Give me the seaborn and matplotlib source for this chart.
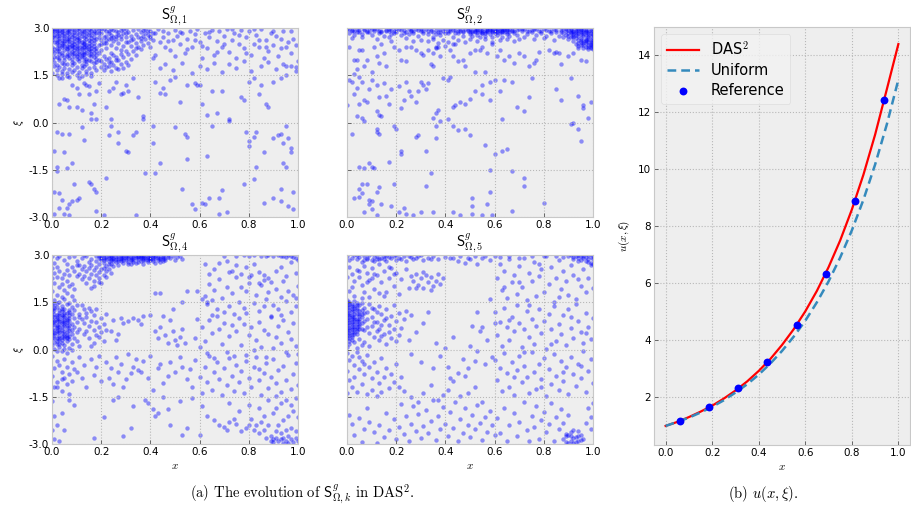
import numpy as np
import matplotlib
matplotlib.use("Agg")
import matplotlib.pyplot as plt
import seaborn as sns

plt.style.use("bmh")
plt.rcParams.update({
    "mathtext.fontset": "cm",
    "grid.linestyle": ":",
    "grid.color": "#b8b8b8",
    "grid.linewidth": 0.8,
    "axes.edgecolor": "#c8c8c8",
    "xtick.direction": "in",
    "ytick.direction": "in",
    "xtick.labelsize": 7.5,
    "ytick.labelsize": 7.5,
})

# ---- collocation points S^g_{Omega,k}: (x, xi), both in units of 1/100 ----
S1 = [
    # dense upper-left core
    (0,297),(1,289),(1,271),(2,283),(2,262),(3,294),(3,276),(4,251),(4,288),(5,268),(5,299),(6,243),(6,279),(7,291),(7,258),(8,236),(8,273),(9,286),(9,249),(10,297),(10,265),(11,228),(11,281),(12,256),(12,292),(13,239),(13,270),(14,284),(14,221),(15,261),(15,296),(16,247),(16,277),(17,233),(17,289),(18,266),(18,213),
    (0,241),(1,222),(1,256),(2,237),(2,209),(3,228),(3,246),(4,214),(4,263),(5,231),(5,197),(6,219),(6,258),(7,204),(7,240),(8,224),(8,192),(9,212),(9,231),(10,243),(10,201),(11,219),(11,257),(12,208),(12,238),(13,194),(13,225),(14,247),(14,203),(15,233),(15,215),(16,196),(16,226),(17,209),(17,251),(18,238),(18,191),
    (0,283),(0,263),(1,296),(2,274),(2,291),(3,259),(3,285),(4,277),(4,297),(5,252),(5,284),(6,266),(6,293),(7,272),(7,283),(8,297),(8,256),(9,267),(9,278),(10,283),(10,251),(11,293),(11,268),(12,274),(12,246),(13,287),(13,259),(14,296),(14,266),(15,279),(15,244),(16,290),(16,258),(17,271),(17,263),(18,284),(18,297),
    (0,228),(1,209),(2,248),(3,217),(4,239),(5,244),(6,233),(7,226),(8,246),(9,221),(10,230),(11,240),(12,222),(13,248),(14,232),(15,227),(16,236),(17,221),(18,226),
    (0,203),(1,193),(2,184),(3,199),(4,188),(5,209),(6,186),(7,214),(8,203),(9,188),(10,218),(11,196),(12,183),(13,207),(14,186),(15,198),(16,212),(17,189),(18,202),
    (1,179),(2,168),(3,177),(4,163),(5,174),(6,158),(7,170),(8,181),(9,166),(10,176),(11,161),(12,172),(13,178),(14,164),(15,172),(16,157),(17,176),(18,168),
    (0,157),(2,152),(4,154),(6,149),(8,160),(10,151),(12,147),(14,155),(16,149),(3,141),(7,146),(11,140),
    (0,291),(1,278),(1,233),(2,297),(2,255),(3,268),(3,238),(4,292),(4,246),(5,276),(5,259),(6,287),(6,238),(7,265),(7,297),(8,281),(8,243),(9,294),(9,259),(10,273),(10,238),(11,299),(11,262),(12,285),(12,232),(13,296),(13,253),(14,275),(14,239),(15,288),(15,252),(16,268),(16,299),(17,283),(17,243),(0,271),(2,226),(4,221),(6,211),(8,219),(10,210),(12,215),(14,195),(16,217),(9,241),(3,206),(5,187),(11,206),(13,217),(7,249),
    # outer part of the cluster
    (19,294),(19,273),(19,246),(20,285),(20,229),(20,262),(21,297),(21,251),(21,212),(22,276),(22,238),(22,290),(23,264),(23,205),(23,283),(24,247),(24,296),(24,222),(25,271),(25,258),(26,289),(26,236),(26,199),(27,279),(27,251),(28,294),(28,265),(28,218),(29,242),(29,283),(30,272),(30,297),(30,228),(31,257),(31,288),(32,276),(32,244),(33,293),(33,264),(34,282),(34,251),(35,297),(35,271),(36,287),(36,259),(37,276),(37,294),(38,285),(38,264),
    (19,221),(20,194),(21,185),(22,203),(23,178),(24,191),(25,214),(26,172),(27,198),(28,185),(29,209),(30,192),(31,219),(32,201),(33,228),(34,214),(35,240),(36,232),(37,246),(39,253),(40,268),
    (19,198),(21,168),(22,175),(24,164),(20,176),(25,182),(27,169),(29,174),(31,181),(23,193),(26,207),(28,229),(30,255),(32,262),(34,238),(36,268),(38,297),(39,279),(40,291),(41,283),
    (19,283),(20,296),(21,272),(22,263),(23,291),(24,278),(25,293),(26,264),(27,288),(28,276),(29,296),(30,283),(20,248),(22,253),(24,268),(26,276),
    # upper band, right part
    (39,290),(40,275),(41,262),(42,285),(43,298),(44,255),(45,270),(46,240),(47,285),(48,230),(49,262),(50,295),(51,275),(52,250),(53,285),(54,220),(55,265),(56,290),(57,240),(58,280),(59,298),(60,255),(61,205),(62,285),(63,235),(64,270),(65,295),(66,215),(67,260),(68,290),(69,240),(70,275),(71,298),(72,225),(73,262),(74,285),(75,205),(76,250),(77,295),(78,235),(79,270),(80,290),(81,215),(82,250),(83,278),(84,240),(85,296),(86,205),(87,262),(88,228),(89,285),(90,245),(91,275),(92,210),(93,236),(94,292),(95,180),(96,255),(97,220),(98,265),(99,175),(100,195),
    (41,205),(44,172),(46,185),(49,168),(53,190),(57,158),(60,178),(63,170),(66,190),(69,160),(72,185),(75,172),(78,195),(81,165),(85,178),(88,192),(91,170),(94,185),(97,178),(99,165),
    (40,240),(42,215),(45,292),(47,258),(50,210),(52,288),(55,232),(58,262),(61,242),(64,288),(67,225),(70,250),(73,296),(76,278),(79,222),(82,296),(84,262),(87,240),(90,290),(93,265),(95,240),(97,290),(99,245),
    # sparse lower part
    (3,60),(5,75),(6,70),(7,50),(10,50),(11,90),(12,40),(13,125),(14,120),(15,90),(16,30),(16,10),(17,60),(18,100),(18,10),(19,125),(15,115),(8,120),(4,140),(10,110),
    (22,50),(23,100),(25,110),(26,130),(28,90),(30,120),(31,100),(33,140),(35,80),(37,20),(37,10),(29,95),(24,10),
    (42,130),(44,95),(45,110),(46,90),(48,135),(50,145),(52,65),(55,120),(58,125),(59,120),(60,120),
    (61,60),(63,25),(65,100),(67,30),(69,100),(72,10),(72,5),(77,80),(78,70),(80,130),
    (82,140),(84,90),(85,120),(87,60),(88,50),(90,130),(93,140),(95,150),
    (1,-90),(2,-30),(4,-35),(5,-95),(7,-35),(12,-15),(13,-55),(2,-140),
    (24,-10),(23,-40),(27,-30),(27,-65),(30,-90),(31,-95),(33,-40),(34,-30),(38,-160),
    (41,-10),(41,-65),(42,-160),(44,-130),(50,-15),(54,-35),(55,-45),(55,-115),
    (63,-105),(65,-10),(79,-30),(80,-75),(80,-60),
    (82,-45),(83,-30),(86,-95),(90,-50),(92,-40),(93,-35),(94,-65),(95,-10),(96,-50),(97,-80),(97,-95),(94,-130),(95,-140),
    (1,-220),(1,-290),(2,-155),(3,-225),(3,-270),(4,-245),(6,-145),(6,-270),(7,-260),(7,-295),(8,-130),(8,-250),(9,-195),(10,-245),(11,-240),(15,-190),(16,-195),(17,-210),(18,-220),(18,-280),(5,-290),
    (22,-175),(21,-295),(34,-295),
    (53,-210),(57,-260),(58,-275),
    (61,-255),(62,-260),(64,-240),(68,-240),(69,-215),(68,-290),(71,-285),(78,-195),
    (82,-180),(83,-140),(86,-255),(90,-240),(93,-210),(93,-250),(96,-265),(98,-220),(98,-275),
]

S2 = [
    # upper band, left part
    (0,296),(1,284),(2,291),(3,277),(4,298),(5,288),(6,281),(7,294),(8,286),(9,299),(10,279),(11,290),(12,296),(13,283),(14,292),(15,275),(16,289),(17,297),(18,282),(19,291),(20,286),(21,298),(22,278),(23,293),(24,287),(25,281),(26,295),(27,289),(28,298),(29,276),(30,291),(31,285),(32,297),(33,282),(34,290),(35,273),(36,294),(37,286),(38,279),(39,292),(40,298),(41,283),(42,289),(43,271),(44,295),(45,284),(46,290),(47,276),(48,297),
    (1,297),(3,289),(5,294),(8,292),(10,297),(13,290),(16,295),(18,293),(20,297),(23,285),(26,291),(29,295),(31,292),(34,296),(36,281),(38,288),(40,284),(42,296),(44,283),(46,298),(47,291),
    (2,268),(6,271),(12,266),(17,272),(24,269),(30,263),(33,258),(35,264),(37,251),(39,262),(41,255),(43,248),(45,262),(48,256),(36,240),(40,244),
    # upper band, middle
    (49,289),(50,296),(50,281),(51,292),(51,274),(52,298),(52,286),(53,279),(53,293),(54,288),(54,270),(55,297),(55,283),(56,291),(56,276),(57,299),(57,286),(58,280),(58,293),(59,289),(59,271),(60,296),(60,284),(61,290),(61,278),(62,297),(62,285),(63,292),(63,273),(64,288),(64,298),(65,281),(65,293),(66,287),(66,275),(67,295),(68,284),(68,291),(69,278),(70,296),
    (50,288),(52,291),(54,295),(56,284),(58,297),(60,291),(62,289),(64,294),(66,297),(53,286),(57,290),(61,296),(65,288),(55,290),(59,294),(63,287),
    (50,264),(53,259),(56,266),(59,257),(62,262),(65,265),(68,258),(70,266),
    (71,289),(72,297),(73,282),(74,292),(75,286),(76,298),(77,279),(78,291),(79,285),(80,296),(81,276),(82,290),(83,283),(84,297),(85,288),(86,274),(87,293),(88,285),(72,270),(76,264),(80,268),(84,262),(88,270),
    (2,294),(4,286),(7,298),(9,287),(11,296),(14,287),(17,291),(19,285),(22,294),(25,297),(27,284),(30,296),(33,292),(35,287),(38,296),(41,291),(43,294),(45,290),(47,286),(49,294),(51,287),(53,297),(55,285),(57,293),(59,286),(61,287),(63,296),(65,297),(67,289),(69,293),(71,296),(73,291),(75,293),(77,297),(79,289),(81,293),(83,289),(85,295),(87,287),(89,296),
    # upper-right blob
    (88,296),(89,289),(89,277),(90,294),(90,283),(90,266),(91,298),(91,287),(91,272),(92,292),(92,280),(92,259),(93,296),(93,285),(93,268),(93,250),(94,290),(94,276),(94,262),(94,243),(95,297),(95,281),(95,269),(95,254),(96,288),(96,274),(96,260),(96,246),(96,237),(97,293),(97,279),(97,266),(97,252),(97,241),(98,285),(98,271),(98,257),(98,246),(98,233),(99,290),(99,276),(99,262),(99,249),(99,238),(100,282),(100,268),(100,254),(100,243),(100,232),
    (91,293),(92,286),(93,277),(94,296),(95,288),(96,295),(97,286),(98,292),(99,283),(100,290),(95,262),(97,258),(99,255),(100,261),(94,252),(96,251),(98,240),(100,248),(92,270),(90,276),
    (91,283),(93,291),(95,293),(97,289),(99,296),(100,278),(96,281),(98,278),(94,284),(92,276),(97,262),(99,246),(95,245),(98,265),
    # middle part
    (1,240),(3,200),(4,200),(5,230),(6,230),(8,200),(7,180),(4,170),(3,155),(10,160),(11,240),(12,210),(14,250),(15,220),(16,180),(18,260),(19,240),(13,190),
    (21,230),(22,200),(24,195),(26,240),(28,230),(30,220),(31,215),(33,230),(35,220),(36,235),(37,240),(38,210),(34,185),(35,180),(24,240),(27,260),
    (42,230),(43,210),(45,195),(47,200),(48,180),(50,220),(52,230),(54,230),(55,240),(56,160),(57,220),(59,250),(44,250),(52,160),
    (61,210),(62,230),(64,200),(66,210),(68,190),(70,220),(72,210),(74,180),(77,200),(78,225),(76,190),
    (82,230),(84,220),(85,225),(86,220),(87,185),(90,210),(92,220),(94,235),(97,195),(99,240),(95,200),
    (0,55),(1,135),(2,130),(3,90),(4,110),(5,145),(6,130),(5,60),(7,70),(8,65),(9,105),(4,20),(6,15),(7,5),(10,135),(12,120),(13,80),(12,35),(13,25),(14,20),(15,125),(16,85),(17,60),(18,105),
    (21,115),(22,45),(23,70),(24,130),(25,100),(26,85),(28,65),(29,100),(30,130),(31,120),(32,105),(33,125),(35,15),(36,30),(37,40),(38,5),(39,140),
    (41,135),(42,145),(43,50),(44,55),(46,65),(48,60),(50,75),(52,100),(55,90),(55,120),(58,130),(58,70),(60,135),(41,10),
    (62,100),(63,10),(64,135),(67,130),(69,50),(72,35),(74,80),(75,140),
    (85,105),(87,70),(91,140),(92,0),(94,85),(96,45),(96,55),(98,15),(99,65),
    # lower part
    (2,-35),(5,-140),(7,-145),(9,-130),(10,-140),(11,-145),(12,-20),(12,-30),(13,-35),(17,-125),(19,-10),
    (20,-20),(22,-90),(22,-100),(28,-45),(29,-40),(32,-90),(36,-10),(36,-50),(34,-160),
    (43,-10),(45,-25),(48,-20),(50,-40),(56,-70),(60,-100),(58,-150),
    (63,-90),(65,-85),(67,-155),(72,-175),
    (91,-5),(94,-20),(95,-60),
    (3,-240),(5,-210),(6,-225),(6,-195),(8,-195),(9,-245),(9,-260),(10,-275),(10,-250),(7,-285),(12,-295),(13,-205),(12,-220),(14,-260),(18,-265),(19,-195),(5,-235),
    (21,-285),(23,-270),(27,-295),(30,-285),(32,-200),(35,-285),(24,-290),
    (43,-285),(46,-295),(51,-240),(51,-265),(51,-290),(55,-295),(57,-260),(58,-220),(59,-295),
    (67,-280),(72,-200),(80,-255),
]

S4 = [
    # upper band
    (18,296),(18,281),(19,290),(19,271),(20,298),(20,285),(21,276),(21,292),(22,288),(22,266),(23,297),(23,280),(24,291),(24,272),(25,286),(25,299),(26,279),(26,293),(27,269),(27,288),(28,296),(28,281),(29,290),(29,274),(30,285),(30,298),(31,278),(31,292),(32,288),(32,270),(33,296),(33,283),(34,291),(34,276),(35,298),(35,286),(36,280),(36,293),(37,289),(37,272),(38,297),(38,284),(39,291),(39,278),(40,287),(40,298),(41,281),(41,293),(42,289),(42,274),(43,296),(43,284),(44,291),(44,279),(45,297),(45,287),(46,283),(47,294),(48,289),(49,297),(50,285),(51,293),(52,298),(53,288),
    (19,297),(21,299),(23,289),(25,292),(27,297),(29,298),(31,296),(33,290),(35,293),(37,298),(39,295),(41,299),(43,291),(45,293),(47,299),(24,283),(28,288),(32,295),(36,297),(40,292),
    (20,291),(22,295),(24,297),(26,287),(28,292),(30,290),(32,284),(34,297),(36,289),(38,291),(40,283),(42,297),(44,287),(46,291),(21,285),(25,280),(29,283),(33,277),(37,283),(41,287),(45,281),(23,272),(27,281),(31,272),(35,279),(39,284),
    (0,296),(2,289),(3,298),(5,284),(7,293),(9,297),(10,281),(12,291),(14,296),(15,279),(16,288),(1,276),(6,270),(11,268),(13,299),
    # diagonal edge of the cluster
    (8,262),(9,248),(10,268),(11,241),(12,257),(13,233),(13,264),(14,249),(15,226),(15,258),(16,241),(16,268),(17,219),(17,252),(18,236),(18,262),(19,246),(19,227),(20,255),(21,238),(22,248),(20,212),(17,203),(14,211),(12,224),(10,232),(19,214),(22,229),(23,256),(16,195),(21,260),(24,244),(25,265),
    # left column
    (0,258),(1,244),(2,231),(1,212),(3,249),(4,226),(5,241),(6,217),(7,236),(8,209),(3,198),(5,188),(7,201),(9,192),(0,187),(2,174),(4,166),(6,179),(8,171),(1,157),(3,151),(5,160),(7,148),(9,157),(0,226),(6,252),(4,208),(2,263),
    (0,143),(1,131),(2,147),(3,124),(4,138),(5,129),(6,144),(7,119),(8,135),(9,126),(10,141),(11,113),
    (0,118),(1,104),(1,124),(2,111),(2,97),(3,116),(3,89),(4,103),(4,121),(5,94),(5,110),(6,86),(6,101),(7,108),(7,92),(8,114),(8,81),(9,99),(10,88),(11,104),
    (0,96),(0,77),(1,86),(1,63),(2,79),(2,58),(3,72),(3,54),(4,84),(4,63),(5,75),(5,49),(6,68),(6,57),(7,79),(7,44),(8,62),(9,73),(10,54),(11,66),
    (0,56),(0,37),(1,46),(1,24),(2,38),(2,17),(3,43),(3,29),(4,51),(4,22),(5,36),(5,13),(6,41),(6,27),(7,33),(8,19),(9,38),(10,26),(11,12),
    (0,14),(1,3),(2,-6),(3,9),(4,-4),(5,2),(6,-11),(7,6),(8,-3),
    (0,130),(2,134),(4,129),(6,117),(1,92),(3,80),(5,88),(7,69),(2,68),(4,41),(6,47),(3,18),(1,53),(0,66),(5,58),(2,103),
    (0,105),(1,113),(2,90),(3,98),(4,92),(5,102),(6,94),(7,99),(1,77),(2,70),(3,63),(4,71),(5,82),(6,79),(0,87),(1,38),(2,51),(3,36),(4,29),(5,43),(6,36),(7,58),(0,50),(2,27),(8,49),(3,110),(5,117),(1,140),(4,111),(7,126),
    (12,142),(13,128),(14,117),(15,133),(16,122),(17,109),(18,128),(12,96),(13,84),(14,102),(15,74),(16,91),(17,63),(18,86),(19,72),(20,54),(21,80),(13,48),(15,36),(17,22),(19,41),(21,28),(22,61),(14,58),(20,99),(22,113),(18,46),(16,12),
    (0,-22),(2,-37),(1,-58),(3,-49),(5,-31),(4,-70),(6,-55),(8,-41),(0,-85),(2,-103),(5,-92),(7,-78),(1,-120),(4,-131),(9,-62),(11,-25),
    # middle region
    (24,60),(25,95),(26,30),(27,50),(28,100),(29,85),(31,90),(33,100),(35,95),(36,80),(37,105),
    (42,178),(44,180),(49,128),(53,150),(55,187),(59,185),(61,160),(63,150),
    (40,110),(42,60),(44,70),(46,45),(47,20),(48,95),(50,30),(51,15),(52,40),(53,65),(54,20),(43,35),(45,105),(49,58),
    (16,-30),(17,-80),(18,-55),(19,-20),(20,-100),(22,-40),(23,-90),(24,-60),(25,-110),(26,-25),(27,-70),(28,-45),(29,-120),(30,-95),(31,-15),(32,-75),(33,-55),(34,-30),(35,-65),(36,-70),(37,-35),(39,-90),(40,-20),(41,-130),(43,-60),(44,-45),(45,-105),(47,-85),(48,-40),(50,-70),(52,-25),(53,-55),(55,-95),(12,-90),(13,-50),(14,-120),(10,-70),(8,-100),(6,-110),(4,-95),(2,-120),(7,-140),
    # right region
    (62,171),(63,143),(64,209),(65,156),(66,188),(67,127),(68,224),(69,162),(70,118),(71,197),(72,139),(73,178),(74,112),(75,231),(76,151),(77,199),(78,133),(79,186),(80,212),(81,236),(82,147),(83,173),(84,121),(85,204),(86,222),(87,161),(88,184),(89,106),(90,141),(91,193),(92,128),(93,168),(94,217),(95,153),(96,186),(97,119),(98,174),(99,138),(100,201),(65,109),(72,246),(79,115),(86,137),(93,108),(99,165),
    (58,38),(59,96),(60,8),(61,71),(62,27),(63,-12),(64,93),(65,51),(66,-27),(67,107),(68,64),(69,19),(70,83),(71,-8),(72,44),(73,78),(74,-21),(75,58),(76,99),(77,14),(78,81),(79,-17),(80,46),(81,70),(82,-3),(83,31),(84,88),(85,9),(86,62),(87,-24),(88,49),(89,102),(90,4),(91,39),(92,76),(93,22),(94,95),(95,-9),(96,57),(97,33),(98,84),(99,12),(100,-15),
    (56,-61),(57,-118),(58,-33),(60,-86),(61,-137),(62,-54),(63,-102),(64,-21),(65,-128),(66,-72),(67,-41),(68,-95),(69,-143),(70,-58),(71,-112),(72,-26),(73,-83),(74,-131),(75,-49),(76,-104),(77,-68),(78,-139),(79,-35),(80,-91),(81,-119),(82,-57),(83,-24),(84,-98),(85,-146),(86,-74),(87,-43),(88,-121),(89,-88),(90,-29),(91,-107),(92,-64),(93,-135),(94,-51),(95,-97),(96,-18),(97,-126),(98,-79),(99,-44),(100,-112),(91,-148),(84,-62),
    # lower part
    (0,-165),(1,-210),(0,-255),(1,-285),(2,-240),(3,-290),(5,-255),(7,-160),(9,-175),(4,-200),(17,-280),
    (21,-215),(25,-160),(27,-150),(29,-275),(32,-250),(33,-180),(38,-160),(39,-170),(41,-190),(42,-210),(43,-200),(45,-150),(47,-190),(48,-240),(52,-165),(53,-270),(55,-250),(57,-155),
    (60,-270),(61,-180),(63,-210),(66,-225),(68,-240),(70,-245),(71,-255),(72,-230),(74,-220),(75,-235),(77,-260),(79,-250),(80,-240),(81,-220),(82,-255),(83,-240),(84,-265),(85,-230),(86,-255),(87,-280),(88,-240),(89,-275),(72,-170),(76,-195),(80,-175),(84,-185),(88,-160),(86,-210),(90,-200),
    (89,-290),(90,-285),(91,-280),(92,-290),(93,-285),(94,-280),(95,-290),(96,-275),(97,-285),(98,-295),(99,-280),(100,-290),(91,-260),(93,-265),(95,-255),(97,-250),(99,-260),(92,-240),(94,-225),(96,-210),(98,-195),(100,-215),(91,-185),(93,-170),(95,-160),(97,-175),(99,-155),(90,-295),(94,-298),(96,-297),
    # upper right
    (70,298),(75,296),(78,299),(80,297),(82,299),(85,298),(87,296),(88,299),(90,297),(92,299),(93,296),(94,298),(95,295),(96,299),(97,296),(98,293),(99,289),(100,285),(62,270),(64,240),(66,255),(68,275),(71,282),(73,250),(75,268),(77,240),(79,262),(82,270),(84,245),(86,238),(88,226),(91,250),(93,262),(95,232),(97,278),(99,242),(80,230),(84,210),(89,215),
]

S5 = [
    # upper-left band
    (0,297),(1,284),(2,292),(3,299),(4,287),(5,294),(6,279),(7,296),(8,288),(9,299),(10,283),(11,293),(12,297),(13,286),(14,291),(15,298),(16,281),(17,294),(18,289),(19,297),(20,285),(21,292),(23,298),(24,280),(26,294),(27,288),(29,297),(31,283),(33,292),(35,298),(37,286),(40,295),(43,289),(46,297),(49,292),(52,298),(55,290),
    (4,299),(8,292),(12,288),(16,297),(20,299),(22,287),(25,297),(28,290),(30,299),(34,288),(7,285),(11,280),(15,286),
    (1,262),(2,241),(3,219),(4,253),(5,231),(6,205),(7,266),(8,244),(9,221),(10,258),(11,192),(12,236),(13,270),(14,214),(15,249),(16,183),(17,228),(18,259),(19,201),(20,242),(21,176),(22,223),(24,255),(25,196),(1,186),(3,171),(5,249),(7,183),(9,168),(11,240),(13,178),(0,231),(6,162),(2,198),(8,213),(10,226),(15,171),(17,262),(19,240),
    (26,234),(27,218),(28,241),(29,206),(30,227),(31,195),(32,238),(33,214),(34,229),(35,201),(36,219),(37,241),(38,208),(39,226),(31,247),(34,188),(28,196),
    (42,290),(45,282),(48,275),(50,288),(53,270),(56,296),(58,284),(60,298),(62,295),(66,296),(70,292),(75,298),(80,296),(85,298),(88,295),
    # dense core on the left edge
    (0,158),(0,141),(0,126),(0,109),(0,94),(0,77),(0,62),(0,45),(1,151),(1,134),(1,117),(1,102),(1,86),(1,69),(1,53),(1,38),(2,146),(2,129),(2,111),(2,96),(2,80),(2,64),(2,47),(3,155),(3,138),(3,121),(3,104),(3,89),(3,72),(3,57),(4,148),(4,131),(4,113),(4,97),(4,81),(4,66),(4,49),(5,140),(5,122),(5,106),(5,90),(5,74),(0,150),(1,126),(2,88),(3,113),(4,58),(0,69),(2,121),(1,94),(3,80),(0,115),(2,55),(4,140),(1,61),
    (0,135),(1,144),(2,138),(3,131),(4,124),(0,101),(1,110),(2,104),(3,97),(4,89),(0,85),(1,78),(2,72),(3,65),(4,73),(0,54),(1,46),(2,40),(3,49),(5,97),(5,81),(5,66),(5,114),(6,126),(6,104),(7,89),(6,64),(7,116),(1,28),(0,36),
    (6,149),(7,131),(8,118),(9,144),(10,103),(11,127),(12,88),(13,139),(14,112),(15,95),(16,128),(17,79),(18,106),(19,142),(20,91),(21,117),(22,68),(6,84),(7,63),(8,96),(9,52),(10,74),(11,41),(12,59),(13,30),(14,77),(15,48),(16,19),(17,55),(18,37),(19,64),(20,26),(6,112),(8,71),(10,132),(12,118),(14,43),(16,99),(7,25),(9,12),(11,86),(13,65),(5,33),(6,14),(3,24),(1,16),(0,8),(4,5),(2,31),(21,45),(23,97),(24,122),(26,108),
    (0,-12),(1,-33),(2,-21),(3,-48),(4,-8),(5,-62),(6,-36),(7,-79),(8,-18),(9,-54),(10,-92),(11,-41),(12,-71),(13,-106),(14,-28),(15,-88),(16,-59),(17,-123),(18,-77),(19,-103),(20,-46),(0,-67),(1,-98),(2,-118),(3,-86),(4,-134),(6,-111),(8,-141),(10,-127),(12,-147),(14,-135),(21,-118),(0,-139),(5,-25),(7,-47),(22,-88),
    # lower band
    (1,-207),(2,-238),(3,-271),(5,-219),(6,-293),(7,-252),(8,-186),(9,-229),(11,-263),(12,-297),(13,-241),(15,-279),(16,-201),(17,-256),(19,-222),(20,-284),(21,-247),(22,-173),(23,-268),(24,-212),(25,-291),(26,-236),(27,-178),(28,-259),(29,-205),(30,-282),(31,-244),(32,-191),(33,-266),(34,-226),(35,-159),(36,-287),(37,-211),(38,-253),(39,-183),(40,-236),(41,-274),(42,-199),(43,-249),(44,-168),(45,-292),(46,-221),(47,-264),(48,-187),(49,-241),(50,-279),(51,-208),(52,-253),(53,-176),(54,-232),(55,-286),(56,-214),(57,-261),(58,-195),(59,-239),(60,-271),
    (26,-152),(31,-137),(37,-161),(41,-128),(46,-149),(52,-118),(55,-167),(34,-112),(43,-101),(49,-139),(23,-132),(29,-166),(39,-144),
    # middle
    (28,55),(31,85),(33,120),(36,20),(38,-20),(40,5),(41,-55),(43,40),(45,-75),(47,-30),(49,-60),(50,10),(51,75),(52,-35),(53,-5),(54,60),(55,70),(56,-45),(57,30),(59,-25),(48,-85),(42,-90),(35,-60),(30,-40),(26,-15),(25,30),(53,120),(58,160),(60,85),
    # right side
    (61,226),(62,271),(63,188),(64,249),(65,162),(66,287),(67,213),(68,238),(69,176),(70,264),(71,198),(72,291),(73,157),(74,244),(75,219),(76,278),(77,169),(78,232),(79,256),(80,184),(81,297),(82,208),(83,263),(84,151),(85,227),(86,285),(87,193),(88,248),(89,216),(90,172),(91,269),(92,235),(93,159),(94,281),(95,203),(96,254),(97,182),(98,226),(99,267),(100,195),(70,215),(78,272),(86,166),(94,224),(64,199),
    (60,118),(61,47),(62,86),(63,12),(64,133),(65,71),(66,29),(67,104),(68,58),(69,141),(70,83),(71,7),(72,66),(73,122),(74,39),(75,97),(76,18),(77,75),(78,129),(79,52),(80,91),(81,3),(82,113),(83,64),(84,137),(85,26),(86,82),(87,49),(88,108),(89,14),(90,127),(91,69),(92,38),(93,146),(94,91),(95,57),(96,21),(97,116),(98,73),(99,34),(100,99),(66,95),(74,142),(83,16),(91,104),(97,52),
    (60,-34),(61,-97),(62,-58),(63,-132),(64,-12),(65,-76),(66,-118),(67,-41),(68,-143),(69,-66),(70,-21),(71,-104),(72,-52),(73,-87),(74,-137),(75,-8),(76,-71),(77,-125),(78,-46),(79,-93),(80,-27),(81,-148),(82,-62),(83,-109),(84,-15),(85,-84),(86,-129),(87,-38),(88,-101),(89,-56),(90,-141),(91,-23),(92,-79),(93,-115),(94,-47),(95,-92),(96,-6),(97,-134),(98,-68),(99,-31),(100,-106),(68,-88),(79,-118),(88,-72),(95,-53),(72,-9),
    (61,-218),(62,-264),(64,-187),(65,-292),(66,-241),(68,-203),(69,-276),(70,-229),(72,-168),(73,-257),(74,-292),(75,-211),(76,-246),(77,-179),(78,-283),(79,-224),(80,-197),(81,-262),(82,-236),(83,-171),(84,-289),(85,-214),(86,-251),(87,-188),(88,-232),(89,-269),(90,-207),(97,-233),(98,-186),(99,-252),(100,-169),(99,-214),
    # corners
    (90,296),(91,299),(92,294),(93,298),(94,292),(95,297),(96,290),(97,295),(98,288),(99,293),(100,286),(95,284),(97,280),(99,276),(100,270),(94,299),(96,298),(98,299),(100,297),(92,288),(98,279),
    (88,-285),(89,-295),(90,-270),(91,-290),(92,-280),(93,-295),(94,-275),(95,-288),(91,-262),(92,-296),(93,-278),(94,-290),(90,-298),(95,-270),(96,-285),(92,-255),(94,-260),(89,-275),(91,-275),
]

panel_sets = [S1, S2, S4, S5]
panel_titles = [r"$\mathsf{S}^g_{\Omega,1}$", r"$\mathsf{S}^g_{\Omega,2}$",
                r"$\mathsf{S}^g_{\Omega,4}$", r"$\mathsf{S}^g_{\Omega,5}$"]
x_ticks = [0.0, 0.2, 0.4, 0.6, 0.8, 1.0]
xi_ticks = [-3.0, -1.5, 0.0, 1.5, 3.0]

# ---- solution u(x, xi) ----
x_curve = [0.00, 0.05, 0.10, 0.15, 0.20, 0.25, 0.30, 0.35, 0.40, 0.45, 0.50,
           0.55, 0.60, 0.65, 0.70, 0.75, 0.80, 0.85, 0.90, 0.95, 1.00]
u_das2 = [1.00, 1.14, 1.31, 1.50, 1.71, 1.96, 2.24, 2.56, 2.93, 3.35, 3.84,
          4.39, 5.02, 5.74, 6.57, 7.51, 8.59, 9.82, 11.22, 12.80, 14.40]
u_uniform = [1.00, 1.14, 1.29, 1.47, 1.67, 1.90, 2.17, 2.46, 2.80, 3.19, 3.63,
             4.13, 4.69, 5.34, 6.07, 6.91, 7.86, 8.94, 10.17, 11.57, 13.15]
x_ref = [0.0625, 0.1875, 0.3125, 0.4375, 0.5625, 0.6875, 0.8125, 0.9375]
u_ref = [1.18, 1.66, 2.33, 3.24, 4.55, 6.34, 8.90, 12.45]
u_ticks = [2, 4, 6, 8, 10, 12, 14]

fig = plt.figure(figsize=(9.11, 5.16), dpi=100)
fig.patch.set_facecolor("white")

W, H = 911, 516
boxes = [(52, 28, 298, 217), (347, 28, 593, 217),
         (52, 255, 298, 444), (347, 255, 593, 444)]

for i, (pts, title, (l, t, r, b)) in enumerate(zip(panel_sets, panel_titles, boxes)):
    ax = fig.add_axes([l / W, 1 - b / H, (r - l) / W, (b - t) / H])
    arr = np.array(pts, dtype=float) / 100.0
    sns.scatterplot(x=arr[:, 0], y=arr[:, 1], ax=ax, color="blue", alpha=0.42,
                    s=10, linewidth=0, legend=False)
    ax.set_xlim(0, 1)
    ax.set_ylim(-3, 3)
    ax.set_xticks(x_ticks)
    ax.set_yticks(xi_ticks)
    ax.set_xticklabels([f"{v:.1f}" for v in x_ticks])
    ax.set_title(title, fontsize=10.5, pad=3)
    ax.tick_params(length=3, width=0.6, color="#555555", pad=2)
    if i % 2 == 0:
        ax.set_yticklabels([f"{v:.1f}" for v in xi_ticks])
        ax.set_ylabel(r"$\xi$", fontsize=8, labelpad=2)
    else:
        ax.set_yticklabels([])
    if i >= 2:
        ax.set_xlabel(r"$x$", fontsize=8, labelpad=3)

# right panel
axr = fig.add_axes([654 / W, 1 - 445 / H, (910 - 654) / W, (445 - 27) / H])
sns.lineplot(x=x_curve, y=u_das2, ax=axr, color="red", linewidth=1.6,
             label=r"DAS$^2$")
sns.lineplot(x=x_curve, y=u_uniform, ax=axr, color="#348ABD", linewidth=1.8,
             linestyle=(0, (3.5, 2)), label="Uniform")
sns.scatterplot(x=x_ref, y=u_ref, ax=axr, color="blue", s=32, linewidth=0,
                label="Reference", zorder=5)
axr.set_xlim(-0.05, 1.05)
axr.set_ylim(0.33, 15.0)
axr.set_xticks(x_ticks)
axr.set_xticklabels([f"{v:.1f}" for v in x_ticks])
axr.set_yticks(u_ticks)
axr.set_yticklabels([str(v) for v in u_ticks])
axr.tick_params(length=3, width=0.6, color="#555555", pad=2)
axr.set_xlabel(r"$x$", fontsize=8, labelpad=3)
axr.set_ylabel(r"$u(x,\xi)$", fontsize=8, labelpad=4)
leg = axr.legend(loc="upper left", fontsize=10.5, frameon=True, fancybox=True,
                 handlelength=2.2, borderpad=0.4, labelspacing=0.35,
                 bbox_to_anchor=(0.0, 1.0))
leg.get_frame().set_facecolor("#f2f2f2")
leg.get_frame().set_edgecolor("#d8d8d8")

# captions
fig.text(302 / W, 1 - 494 / H,
         r"(a) The evolution of $\mathsf{S}^g_{\Omega,k}$ in DAS$^2$.",
         ha="center", va="center", fontsize=10.5, family="cmr10")
fig.text(763 / W, 1 - 494 / H, r"(b) $u(x,\xi)$.",
         ha="center", va="center", fontsize=10.5, family="cmr10")

fig.savefig("out.png", dpi=100, facecolor="white")
